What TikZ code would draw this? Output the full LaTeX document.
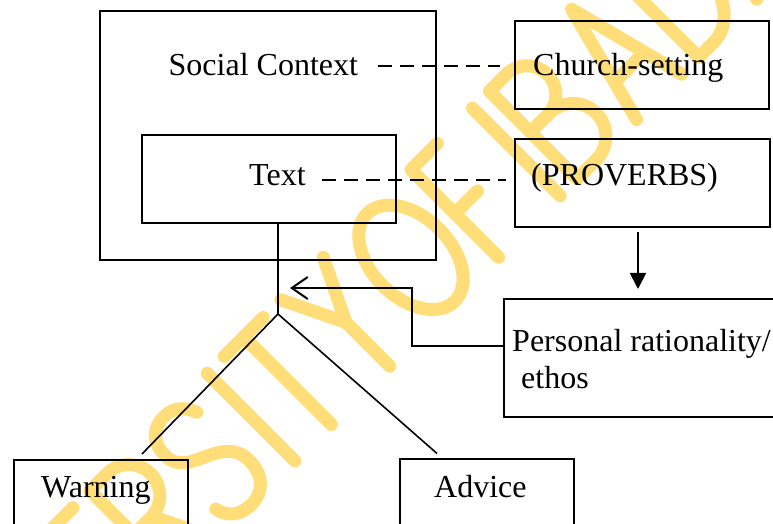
\documentclass[tikz,border=0pt]{standalone}
\usepackage{fontspec}
\setmainfont{Liberation Serif}
\usetikzlibrary{arrows.meta}

\definecolor{wmyellow}{RGB}{255,221,120}

\tikzset{
  box/.style={draw, line width=2pt, rectangle, inner sep=0pt},
  lbl/.style={anchor=base west, inner sep=0pt, font=\fontsize{32}{38}\selectfont},
  dashline/.style={line width=2pt, dash pattern=on 14pt off 8pt},
  link/.style={line width=1.6pt},
  wm/.style={wmyellow, line width=13pt, line cap=round, line join=round},
}

\begin{document}
\begin{tikzpicture}[x=1pt, y=1pt]
\useasboundingbox (0,0) rectangle (773,524);

% watermark lettering, single-stroke capitals on a 45 degree baseline
\begin{scope}
\clip (0,0) rectangle (773,524);
\begin{scope}[shift={(295,63)}, rotate=45, wm]
  % U N I V E
  \draw (-518,124) -- (-518,35) .. controls (-518,-10) and (-460,-10) .. (-460,35) -- (-460,124);
  \draw (-436,0) -- (-436,124) -- (-376,0) -- (-376,124);
  \draw (-352,0) -- (-352,124);
  \draw (-328,124) -- (-296,0) -- (-264,124);
  \draw (-190,124) -- (-240,124) -- (-240,0) -- (-190,0);
  \draw (-240,62) -- (-196,62);
  % R S I T Y
  \draw (-166,0) -- (-166,124) -- (-142,124) arc[start angle=90, end angle=-90, radius=31] -- (-166,62);
  \draw (-140,62) -- (-111,0);
  \draw (-35,104) .. controls (-42,122) and (-54,124) .. (-61,124)
        .. controls (-80,124) and (-88,112) .. (-88,95)
        .. controls (-88,62) and (-32,72) .. (-32,33)
        .. controls (-32,12) and (-44,0) .. (-62,0)
        .. controls (-78,0) and (-88,10) .. (-90,22);
  \draw (0,0) -- (0,124);
  \draw (24,124) -- (79,124);
  \draw (51.5,124) -- (51.5,0);
  \draw (104,124) -- (134,62) -- (164,124);
  \draw (134,62) -- (134,0);
  % O F
  \draw (226,62) ellipse[x radius=40, y radius=62];
  \draw (288,0) -- (288,124) -- (325,124);
  \draw (288,62) -- (320,62);
  % I B A D A N
  \draw (375,0) -- (375,124);
  \draw (399,0) -- (399,124) -- (423,124) arc[start angle=90, end angle=-90, radius=29] -- (399,66);
  \draw (399,66) -- (426,66) arc[start angle=90, end angle=-90, radius=33] -- (399,0);
  \draw (483,0) -- (515,124) -- (547,0);
  \draw (494,42) -- (536,42);
  \draw (571,0) -- (571,124) -- (591,124) .. controls (651,124) and (651,0) .. (591,0) -- (571,0);
  \draw (653,0) -- (685,124) -- (717,0);
  \draw (664,42) -- (706,42);
  \draw (741,0) -- (741,124) -- (801,0) -- (801,124);
\end{scope}
\end{scope}

% boxes
\node[box, minimum width=336pt, minimum height=249pt] (outer) at (268,388.5) {};
\node[box, minimum width=254pt, minimum height=88pt] (textbox) at (269,345) {};
\node[box, minimum width=254pt, minimum height=88pt] (church) at (642,459) {};
\node[box, minimum width=255pt, minimum height=88pt] (prov) at (642.5,341) {};
\node[box, minimum width=296pt, minimum height=118pt] (personal) at (652,166) {};
\node[box, minimum width=174pt, minimum height=84pt] (warning) at (101,22) {};
\node[box, minimum width=174pt, minimum height=85pt] (advice) at (487,22.5) {};

% labels
\node[lbl] (soclbl) at (168.5,448) {Social Context};
\node[lbl] (churchlbl) at (533,448) {Church-setting};
\node[lbl] (textlbl) at (249,338) {Text};
\node[lbl] (provlbl) at (531,338) {(PROVERBS)};
\node[lbl] (perslbl) at (512,172) {Personal rationality/};
\node[lbl] (ethoslbl) at (521,135) {ethos};
\node[lbl] (warnlbl) at (41,26) {Warning};
\node[lbl] (advlbl) at (434,26) {Advice};

% dashed links
\draw[dashline] ([xshift=20pt]soclbl.east |- 0,458) -- ([xshift=-14pt]church.west |- 0,458);
\draw[dashline] ([xshift=16pt]textlbl.east |- 0,344) -- ([xshift=-8pt]prov.west |- 0,344);

% stem and branches
\coordinate (stemtop) at ([xshift=9pt]textbox.south);
\coordinate (apex) at (278,210);
\coordinate (warnend) at ([xshift=41pt, yshift=5pt]warning.north);
\coordinate (advend) at ([xshift=-50pt, yshift=4.5pt]advice.north);
\draw[link, line width=2pt] (stemtop) -- (apex);
\draw[link] (warnend) -- (apex) -- (advend);

% feedback arrow from the personal box
\coordinate (bend) at (412,236);
\coordinate (tip) at (290,236);
\draw[line width=2pt, -{Straight Barb[length=16pt, width=22pt, line width=2pt]}]
  ([yshift=12pt]personal.west) -| (bend) -- (tip);

% arrow from proverbs down to personal
\draw[line width=2pt, -{Triangle[length=16pt, width=16pt]}]
  ([xshift=-4.5pt, yshift=-4pt]prov.south) -- ([xshift=-14pt, yshift=9pt]personal.north);
\end{tikzpicture}
\end{document}
